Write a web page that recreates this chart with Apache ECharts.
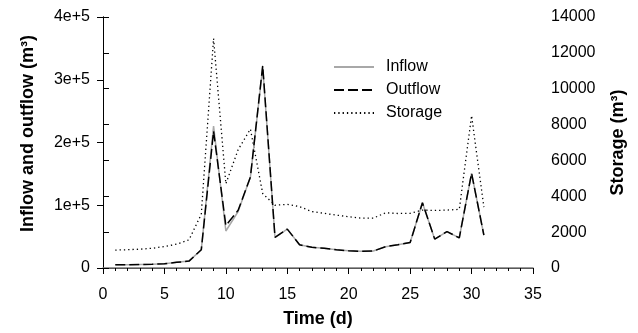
<!DOCTYPE html>
<html>
<head>
<meta charset="utf-8">
<script src="https://cdn.jsdelivr.net/npm/echarts@6/dist/echarts.min.js"></script>
<style>
  html, body {margin: 0; padding: 0; background: #fff;}
  #chart {width: 638px; height: 333px;}
</style>
</head>
<body>
<div id="chart"></div>
<script>
var days = [1, 2, 3, 4, 5, 6, 7, 8, 9, 10, 11, 12, 13, 14, 15, 16, 17, 18, 19, 20, 21, 22, 23, 24, 25, 26, 27, 28, 29, 30, 31];
var inflow = [5200, 5300, 5400, 5800, 6800, 9000, 11000, 29000, 226000, 59000, 90000, 145000, 320000, 49000, 62000, 37000, 33000, 31500, 29000, 27500, 26500, 27000, 34000, 37000, 40500, 104000, 46000, 58000, 48000, 151000, 52500];
var outflow = [5200, 5300, 5400, 5800, 6800, 9000, 11000, 29000, 218000, 67500, 92000, 145000, 322500, 49000, 62000, 37000, 33000, 31500, 29000, 27500, 26500, 27000, 34000, 37000, 40500, 104000, 46000, 58000, 48000, 151000, 52500];
var storage = [1000, 1020, 1050, 1100, 1200, 1330, 1570, 3000, 12800, 4700, 6600, 7750, 4150, 3500, 3550, 3420, 3150, 3050, 2950, 2860, 2780, 2780, 3080, 3040, 3050, 3230, 3210, 3230, 3270, 8500, 3400];

function pairs(vals) {
  return days.map(function (d, i) { return [d, vals[i]]; });
}

var font = 'Liberation Sans, Arial, sans-serif';
var myChart = echarts.init(document.getElementById('chart'));

myChart.setOption({
  animation: false,
  textStyle: {fontFamily: font},
  grid: {left: 103, right: 105, top: 17, bottom: 63},
  legend: {
    orient: 'vertical',
    left: 333,
    top: 59,
    padding: 0,
    itemWidth: 40,
    itemHeight: 14,
    itemGap: 7,
    itemStyle: {opacity: 0},
    textStyle: {fontSize: 16, lineHeight: 14, color: '#000', fontFamily: font, padding: [0, 0, 0, 7]},
    data: ['Inflow', 'Outflow', 'Storage']
  },
  xAxis: [{
    type: 'value',
    min: 0,
    max: 35,
    interval: 5,
    name: 'Time (d)',
    nameLocation: 'middle',
    nameGap: 42,
    nameTextStyle: {fontSize: 18, fontWeight: 'bold', color: '#000'},
    axisLine: {lineStyle: {color: '#000', width: 1}},
    axisTick: {length: 6, lineStyle: {color: '#000'}},
    minorTick: {show: true, splitNumber: 5, length: 3, lineStyle: {color: '#000'}},
    axisLabel: {fontSize: 16, color: '#000', margin: 19},
    splitLine: {show: false}
  }, {
    type: 'value',
    position: 'top',
    min: 0,
    max: 35,
    axisLine: {show: true, lineStyle: {color: '#777', width: 1.5}},
    axisTick: {show: false},
    axisLabel: {show: false},
    splitLine: {show: false}
  }],
  yAxis: [{
    type: 'value',
    min: 0,
    max: 400000,
    interval: 100000,
    name: 'Inflow and outflow (m³)',
    nameLocation: 'middle',
    nameGap: 66,
    nameTextStyle: {fontSize: 18, fontWeight: 'bold', color: '#000', padding: [0, 0, 0, 18]},
    axisLine: {show: true, lineStyle: {color: '#000'}},
    axisTick: {show: true, length: 6, lineStyle: {color: '#000'}},
    axisLabel: {
      fontSize: 16, color: '#000', margin: 13,
      formatter: function (v) { return v === 0 ? '0' : (v / 100000) + 'e+5'; }
    },
    splitLine: {show: false}
  }, {
    type: 'value',
    min: 0,
    max: 14000,
    interval: 2000,
    position: 'right',
    name: 'Storage (m³)',
    nameLocation: 'middle',
    nameGap: 76,
    nameTextStyle: {fontSize: 18, fontWeight: 'bold', color: '#000'},
    axisLine: {show: true, lineStyle: {color: '#000'}},
    axisTick: {show: true, length: 6, lineStyle: {color: '#000'}},
    axisLabel: {fontSize: 16, color: '#000', margin: 18, formatter: function (v) { return String(v); }},
    splitLine: {show: false}
  }],
  series: [{
    name: 'Storage',
    type: 'line',
    yAxisIndex: 1,
    data: pairs(storage),
    symbol: 'none',
    color: '#000',
    lineStyle: {color: '#000', width: 1.3, type: [1.3, 3]}
  }, {
    name: 'Inflow',
    type: 'line',
    data: pairs(inflow),
    symbol: 'none',
    color: '#a8a8a8',
    lineStyle: {color: '#a8a8a8', width: 1.5}
  }, {
    name: 'Outflow',
    type: 'line',
    data: pairs(outflow),
    symbol: 'none',
    color: '#000',
    lineStyle: {color: '#000', width: 1.5, type: [10, 4]}
  }]
});
</script>
</body>
</html>
